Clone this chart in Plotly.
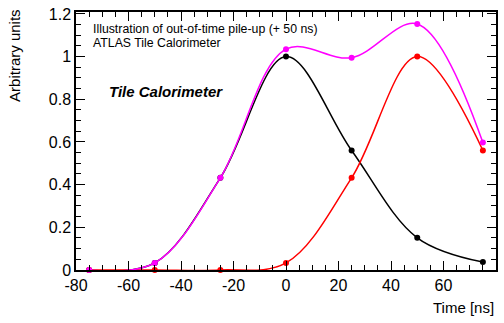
import plotly.graph_objects as go

time_ns = [-75, -50, -25, 0, 25, 50, 75]
pulse_intime = [0.0, 0.033, 0.432, 1.0, 0.56, 0.151, 0.037]
pulse_oot = [0.0, 0.0, 0.0, 0.033, 0.432, 1.0, 0.56]
pulse_sum = [0.0, 0.033, 0.432, 1.035, 0.995, 1.153, 0.597]

x_tick_vals = [-80, -60, -40, -20, 0, 20, 40, 60, 80]
x_tick_text = ["-80", "-60", "-40", "-20", "0", "20", "40", "60", "80"]
y_tick_vals = [0, 0.2, 0.4, 0.6, 0.8, 1.0, 1.2]
y_tick_text = ["0", "0.2", "0.4", "0.6", "0.8", "1", "1.2"]

FONT = "Liberation Sans, Arial, Helvetica, sans-serif"

fig = go.Figure()
for vals, col in [(pulse_intime, "black"), (pulse_oot, "#ff0000"), (pulse_sum, "#ff00ff")]:
    fig.add_trace(go.Scatter(
        x=time_ns, y=vals, mode="lines+markers",
        line=dict(color=col, width=1.5, shape="spline", smoothing=1.0),
        marker=dict(color=col, size=6),
        showlegend=False, cliponaxis=False,
    ))

axis_common = dict(
    showgrid=False, zeroline=False, showline=True, linecolor="black", linewidth=1.5,
    mirror="allticks", ticks="inside", ticklen=9, tickwidth=1, tickcolor="black",
    tickfont=dict(family=FONT, size=16, color="black"),
)
fig.update_xaxes(range=[-80, 80], tickmode="array", tickvals=x_tick_vals, ticktext=x_tick_text,
                 minor=dict(dtick=5, tick0=-80, ticklen=5, ticks="inside", tickcolor="black"),
                 ticklabelstandoff=0,
                 **axis_common)
fig.update_yaxes(range=[0, 1.209], tickmode="array", tickvals=y_tick_vals, ticktext=y_tick_text,
                 minor=dict(dtick=0.05, tick0=0, ticklen=5, ticks="inside", tickcolor="black"),
                 **axis_common)

fig.update_layout(
    width=504, height=323,
    margin=dict(l=76, r=6, t=8, b=53),
    paper_bgcolor="white", plot_bgcolor="white",
    font=dict(family=FONT, color="black"),
    annotations=[
        dict(text="Arbitrary units", textangle=-90, xref="paper", yref="paper",
             x=-0.145, y=0.83, xanchor="center", yanchor="middle", showarrow=False,
             font=dict(size=15)),
        dict(text="Time [ns]", xref="paper", yref="paper", x=1.0, y=-0.145,
             xanchor="right", yanchor="middle", showarrow=False, font=dict(size=15)),
        dict(text="Illustration of out-of-time pile-up (+ 50 ns)", xref="paper", yref="paper",
             x=(91 - 76) / 422, y=(270 - 25) / 262, xanchor="left", yanchor="middle",
             showarrow=False, font=dict(size=12.3)),
        dict(text="ATLAS Tile Calorimeter", xref="paper", yref="paper",
             x=(91 - 76) / 422, y=(270 - 39) / 262, xanchor="left", yanchor="middle",
             showarrow=False, font=dict(size=12.3)),
        dict(text="<b><i>Tile Calorimeter</i></b>", xref="paper", yref="paper",
             x=(107 - 76) / 422, y=(270 - 89) / 262, xanchor="left", yanchor="middle",
             showarrow=False, font=dict(size=15)),
    ],
)

fig.write_html("out.html")
